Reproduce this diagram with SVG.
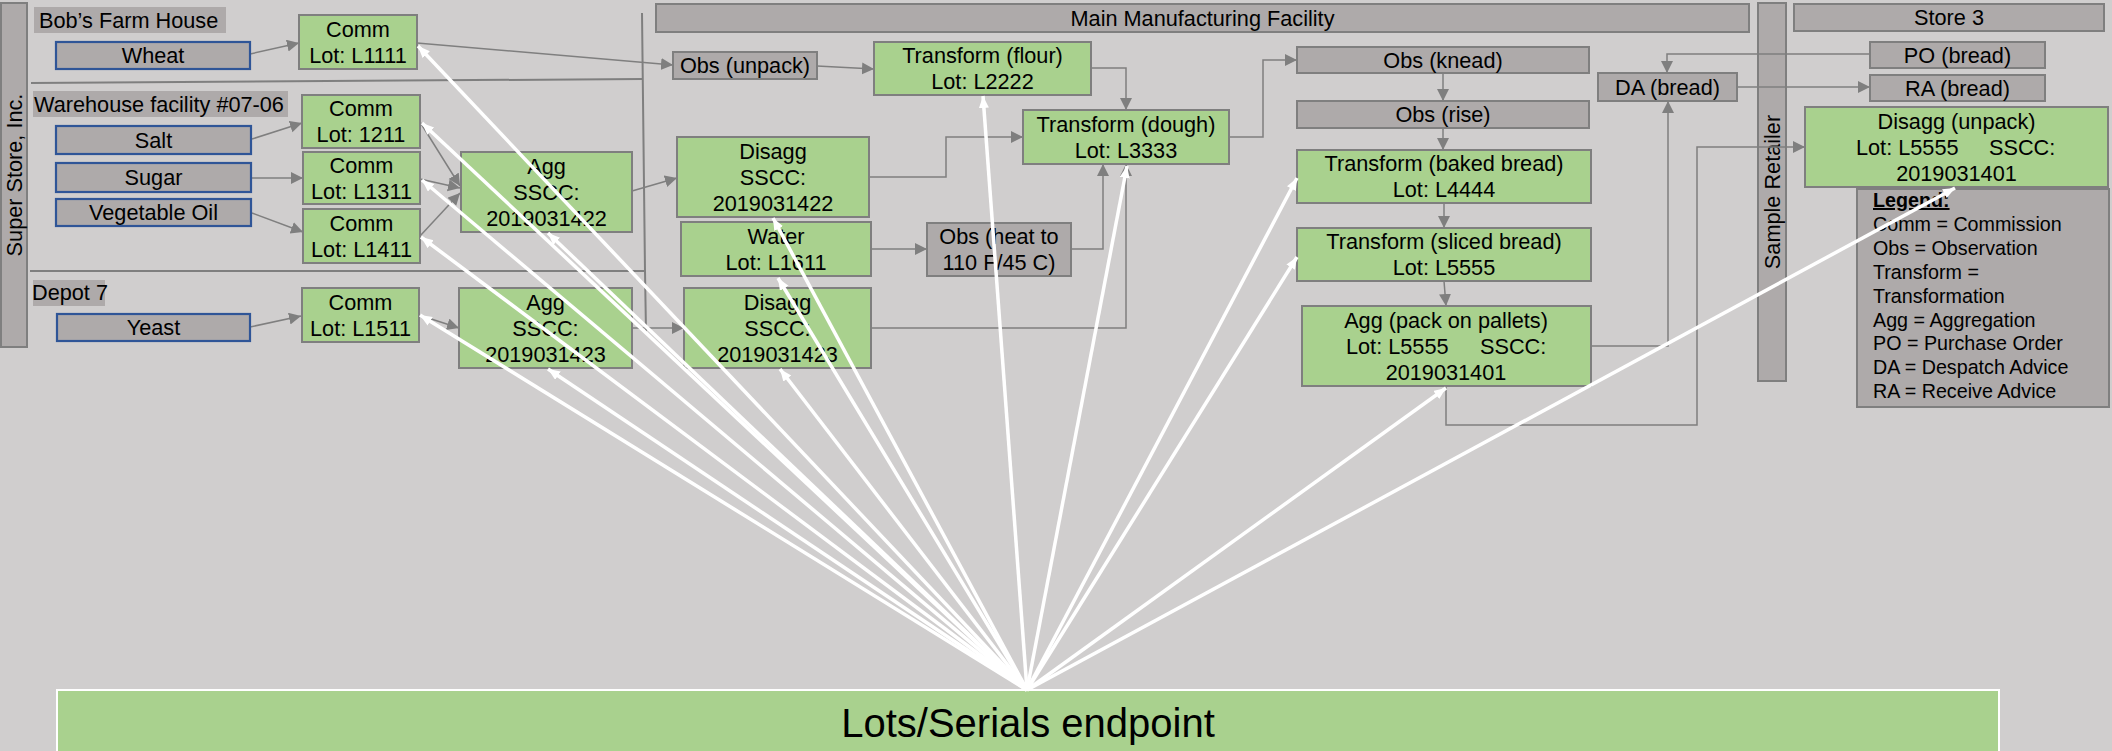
<svg xmlns="http://www.w3.org/2000/svg" width="2112" height="751" viewBox="0 0 2112 751">
<style>
text{font-family:"Liberation Sans",Arial,sans-serif;font-size:21.7px;fill:#000}
.c{text-anchor:middle}
.g{fill:#a9d18e;stroke:#7f7f7f;stroke-width:2}
.s{fill:#aeaaaa;stroke:#7f7f7f;stroke-width:2}
.b{fill:#aeaaaa;stroke:#2f5597;stroke-width:2.2}
.l{fill:#aeaaaa}
.cn{fill:none;stroke:#7f7f7f;stroke-width:1.5}
.w{fill:none;stroke:#fff;stroke-width:3.5}
.sep{fill:none;stroke:#7f7f7f;stroke-width:2}
.lg{font-size:19.7px}
.big{font-size:40px}
</style>
<defs>
<marker id="ga" markerUnits="userSpaceOnUse" markerWidth="14" markerHeight="14" refX="12" refY="6" orient="auto"><path d="M0,0 L12,6 L0,12 z" fill="#7f7f7f"/></marker>
<marker id="wa" markerUnits="userSpaceOnUse" markerWidth="14" markerHeight="12" refX="12" refY="5" orient="auto"><path d="M0,0 L12,5 L0,10 z" fill="#fff"/></marker>
</defs>
<rect x="0" y="0" width="2112" height="751" fill="#d0cece"/>

<g id="lanes">
<rect class="s" x="1" y="3" width="26" height="344"/>
<text class="c" transform="translate(22,175) rotate(-90)">Super Store, Inc.</text>
<rect class="s" x="1758" y="3" width="28" height="378"/>
<text class="c" transform="translate(1780,192) rotate(-90)">Sample Retailer</text>
<rect class="s" x="656" y="4" width="1093" height="28"/>
<text class="c" x="1202.5" y="25.8">Main Manufacturing Facility</text>
<rect class="s" x="1794" y="4" width="310" height="27"/>
<text class="c" x="1949" y="25.3">Store 3</text>
<path class="sep" d="M31,83 L642,79"/>
<path class="sep" d="M30,271 L645,271"/>
<path class="sep" d="M642,13 L645,271 L646,332"/>
<rect class="l" x="34" y="7" width="192" height="26"/>
<text x="39" y="28">Bob’s Farm House</text>
<rect class="l" x="33" y="91" width="255" height="26"/>
<text x="34" y="112">Warehouse facility #07-06</text>
<rect class="l" x="33" y="280" width="72" height="26"/>
<text x="32" y="300">Depot 7</text>
</g>

<g id="connectors">
<path class="cn" marker-end="url(#ga)" d="M250,54 L299,43"/>
<path class="cn" marker-end="url(#ga)" d="M252,139 L302,123"/>
<path class="cn" marker-end="url(#ga)" d="M252,178 L303,178"/>
<path class="cn" marker-end="url(#ga)" d="M252,213 L303,232"/>
<path class="cn" marker-end="url(#ga)" d="M250,327 L301,316"/>
<path class="cn" marker-end="url(#ga)" d="M420,122 L460,186"/>
<path class="cn" marker-end="url(#ga)" d="M420,179 L460,188"/>
<path class="cn" marker-end="url(#ga)" d="M420,236 L460,193"/>
<path class="cn" marker-end="url(#ga)" d="M632,191 L677,178"/>
<path class="cn" marker-end="url(#ga)" d="M419,315 L459,328"/>
<path class="cn" marker-end="url(#ga)" d="M632,328 L684,328"/>
<path class="cn" marker-end="url(#ga)" d="M417,43 L673,65"/>
<path class="cn" marker-end="url(#ga)" d="M817,66 L874,69"/>
<path class="cn" marker-end="url(#ga)" d="M869,177 L946,177 L946,137 L1023,137"/>
<path class="cn" marker-end="url(#ga)" d="M871,249 L927,249"/>
<path class="cn" marker-end="url(#ga)" d="M1071,249 L1103,249 L1103,164"/>
<path class="cn" marker-end="url(#ga)" d="M871,328 L1126,328 L1126,164"/>
<path class="cn" marker-end="url(#ga)" d="M1091,68 L1126,68 L1126,110"/>
<path class="cn" marker-end="url(#ga)" d="M1229,137 L1263,137 L1263,60 L1297,60"/>
<path class="cn" marker-end="url(#ga)" d="M1443,73 L1443,101"/>
<path class="cn" marker-end="url(#ga)" d="M1443,128 L1443,150"/>
<path class="cn" marker-end="url(#ga)" d="M1444,203 L1444,228"/>
<path class="cn" marker-end="url(#ga)" d="M1444,281 L1446,306"/>
<path class="cn" marker-end="url(#ga)" d="M1591,346 L1668,346 L1668,101"/>
<path class="cn" marker-end="url(#ga)" d="M1870,54 L1667,54 L1667,73"/>
<path class="cn" marker-end="url(#ga)" d="M1737,87 L1870,87"/>
<path class="cn" marker-end="url(#ga)" d="M1446,386 L1446,425 L1697,425 L1697,147 L1805,147"/>
</g>

<g id="nodes">
<g id="wheat"><rect class="b" x="56" y="42" width="194" height="27"/><text class="c" x="153" y="63.3">Wheat</text></g>
<g id="salt"><rect class="b" x="56" y="126" width="195" height="28"/><text class="c" x="153.5" y="147.8">Salt</text></g>
<g id="sugar"><rect class="b" x="56" y="163" width="195" height="29"/><text class="c" x="153.5" y="185.3">Sugar</text></g>
<g id="oil"><rect class="b" x="56" y="199" width="195" height="27"/><text class="c" x="153.5" y="220.3">Vegetable Oil</text></g>
<g id="yeast"><rect class="b" x="57" y="314" width="193" height="27"/><text class="c" x="153.5" y="335.3">Yeast</text></g>

<g id="comm1111"><rect class="g" x="299" y="15" width="118" height="54"/><text class="c" x="358" y="36.8">Comm</text><text class="c" x="358" y="62.8">Lot: L1111</text></g>
<g id="comm1211"><rect class="g" x="302" y="95" width="118" height="53"/><text class="c" x="361" y="116.3">Comm</text><text class="c" x="361" y="142.3">Lot: 1211</text></g>
<g id="comm1311"><rect class="g" x="303" y="152" width="117" height="52"/><text class="c" x="361.5" y="172.8">Comm</text><text class="c" x="361.5" y="198.8">Lot: L1311</text></g>
<g id="comm1411"><rect class="g" x="303" y="209" width="117" height="54"/><text class="c" x="361.5" y="230.8">Comm</text><text class="c" x="361.5" y="256.8">Lot: L1411</text></g>
<g id="comm1511"><rect class="g" x="302" y="288" width="117" height="54"/><text class="c" x="360.5" y="309.8">Comm</text><text class="c" x="360.5" y="335.8">Lot: L1511</text></g>

<g id="agg1422"><rect class="g" x="461" y="152" width="171" height="80"/><text class="c" x="546.5" y="173.8">Agg</text><text class="c" x="546.5" y="199.8">SSCC:</text><text class="c" x="546.5" y="225.8">2019031422</text></g>
<g id="agg1423"><rect class="g" x="459" y="288" width="173" height="80"/><text class="c" x="545.5" y="309.8">Agg</text><text class="c" x="545.5" y="335.8">SSCC:</text><text class="c" x="545.5" y="361.8">2019031423</text></g>

<g id="obsunpack"><rect class="s" x="673" y="52" width="144" height="27"/><text class="c" x="745" y="73.3">Obs (unpack)</text></g>
<g id="disagg1422"><rect class="g" x="677" y="137" width="192" height="80"/><text class="c" x="773" y="158.8">Disagg</text><text class="c" x="773" y="184.8">SSCC:</text><text class="c" x="773" y="210.8">2019031422</text></g>
<g id="water"><rect class="g" x="681" y="222" width="190" height="54"/><text class="c" x="776" y="243.8">Water</text><text class="c" x="776" y="269.8">Lot: L1611</text></g>
<g id="disagg1423"><rect class="g" x="684" y="288" width="187" height="80"/><text class="c" x="777.5" y="309.8">Disagg</text><text class="c" x="777.5" y="335.8">SSCC:</text><text class="c" x="777.5" y="361.8">2019031423</text></g>
<g id="obsheat"><rect class="s" x="927" y="223" width="144" height="53"/><text class="c" x="999" y="244.3">Obs (heat to</text><text class="c" x="999" y="270.3">110 F/45 C)</text></g>
<g id="flour"><rect class="g" x="874" y="42" width="217" height="53"/><text class="c" x="982.5" y="63.3">Transform (flour)</text><text class="c" x="982.5" y="89.3">Lot: L2222</text></g>
<g id="dough"><rect class="g" x="1023" y="110" width="206" height="54"/><text class="c" x="1126" y="131.8">Transform (dough)</text><text class="c" x="1126" y="157.8">Lot: L3333</text></g>

<g id="knead"><rect class="s" x="1297" y="47" width="292" height="26"/><text class="c" x="1443" y="67.8">Obs (knead)</text></g>
<g id="rise"><rect class="s" x="1297" y="101" width="292" height="27"/><text class="c" x="1443" y="122.3">Obs (rise)</text></g>
<g id="baked"><rect class="g" x="1297" y="150" width="294" height="53"/><text class="c" x="1444" y="171.3">Transform (baked bread)</text><text class="c" x="1444" y="197.3">Lot: L4444</text></g>
<g id="sliced"><rect class="g" x="1297" y="228" width="294" height="53"/><text class="c" x="1444" y="249.3">Transform (sliced bread)</text><text class="c" x="1444" y="275.3">Lot: L5555</text></g>
<g id="aggpack"><rect class="g" x="1302" y="306" width="289" height="80"/><text class="c" x="1446" y="327.8">Agg (pack on pallets)</text><text x="1346" y="353.8">Lot: L5555</text><text x="1480" y="353.8">SSCC:</text><text class="c" x="1446" y="379.8">2019031401</text></g>

<g id="da"><rect class="s" x="1598" y="73" width="139" height="28"/><text class="c" x="1667.5" y="94.8">DA (bread)</text></g>
<g id="po"><rect class="s" x="1870" y="42" width="175" height="26"/><text class="c" x="1957.5" y="62.8">PO (bread)</text></g>
<g id="ra"><rect class="s" x="1870" y="75" width="175" height="26"/><text class="c" x="1957.5" y="95.8">RA (bread)</text></g>
<g id="disaggunpack"><rect class="g" x="1805" y="107" width="303" height="80"/><text class="c" x="1956.5" y="128.8">Disagg (unpack)</text><text x="1856" y="154.8">Lot: L5555</text><text x="1989" y="154.8">SSCC:</text><text class="c" x="1956.5" y="180.8">2019031401</text></g>

<g id="legend"><rect class="s" x="1857" y="189" width="252" height="218"/>
<text class="lg" x="1873" y="207" font-weight="bold" text-decoration="underline">Legend:</text>
<text class="lg" x="1873" y="230.9">Comm = Commission</text>
<text class="lg" x="1873" y="254.8">Obs = Observation</text>
<text class="lg" x="1873" y="278.7">Transform =</text>
<text class="lg" x="1873" y="302.6">Transformation</text>
<text class="lg" x="1873" y="326.5">Agg = Aggregation</text>
<text class="lg" x="1873" y="350.4">PO = Purchase Order</text>
<text class="lg" x="1873" y="374.3">DA = Despatch Advice</text>
<text class="lg" x="1873" y="398.2">RA = Receive Advice</text>
</g>

<g id="endpoint"><rect x="57" y="690" width="1942" height="70" fill="#a9d18e" stroke="#fff" stroke-width="2"/><text class="c big" x="1028" y="737">Lots/Serials endpoint</text></g>
</g>

<g id="endpoint-links">
<path class="w" marker-end="url(#wa)" d="M1027,690 L418,46"/>
<path class="w" marker-end="url(#wa)" d="M1027,690 L422,123"/>
<path class="w" marker-end="url(#wa)" d="M1027,690 L422,180"/>
<path class="w" marker-end="url(#wa)" d="M1027,690 L421,237"/>
<path class="w" marker-end="url(#wa)" d="M1027,690 L420,315"/>
<path class="w" marker-end="url(#wa)" d="M1027,690 L548,233"/>
<path class="w" marker-end="url(#wa)" d="M1027,690 L548,369"/>
<path class="w" marker-end="url(#wa)" d="M1027,690 L773,218"/>
<path class="w" marker-end="url(#wa)" d="M1027,690 L778,278"/>
<path class="w" marker-end="url(#wa)" d="M1027,690 L780,369"/>
<path class="w" marker-end="url(#wa)" d="M1027,690 L983,96"/>
<path class="w" marker-end="url(#wa)" d="M1027,690 L1127,166"/>
<path class="w" marker-end="url(#wa)" d="M1027,690 L1297,178"/>
<path class="w" marker-end="url(#wa)" d="M1027,690 L1297,257"/>
<path class="w" marker-end="url(#wa)" d="M1027,690 L1446,388"/>
<path class="w" marker-end="url(#wa)" d="M1027,690 L1955,188"/>
</g>
</svg>
